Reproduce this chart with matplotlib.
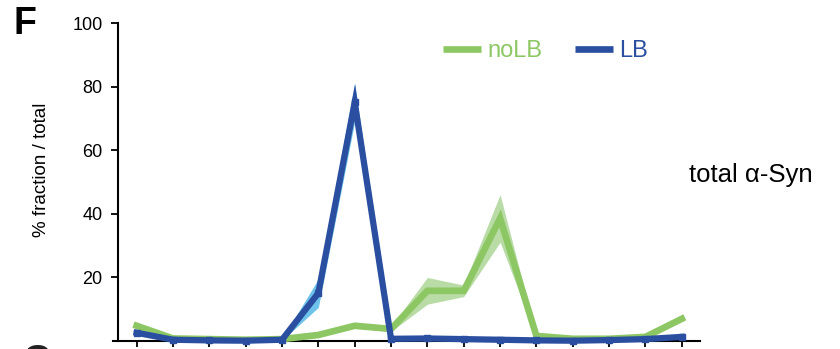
import matplotlib
matplotlib.use("Agg")
import matplotlib.pyplot as plt
import numpy as np

plt.rcParams['font.family'] = ['Liberation Sans', 'DejaVu Sans']

fractions = list(range(16))
nolb_mean = [4.7, 0.7, 0.5, 0.3, 0.5, 1.8, 4.7, 3.7, 15.7, 15.7, 38.5, 1.5, 0.6, 0.6, 1.2, 6.9]
nolb_err  = [0.6, 0.3, 0.3, 0.2, 0.3, 0.4, 0.8, 0.8, 4.2, 1.8, 7.5, 0.3, 0.2, 0.2, 0.3, 0.6]
lb_mean   = [2.5, 0.3, 0.1, 0.0, 0.3, 15.0, 75.0, 0.6, 0.7, 0.5, 0.3, 0.1, 0.0, 0.2, 0.5, 1.2]
lb_err    = [0.5, 0.2, 0.1, 0.1, 0.2, 4.5, 6.0, 0.3, 0.3, 0.2, 0.2, 0.1, 0.1, 0.1, 0.2, 0.3]
yticks = [20, 40, 60, 80, 100]

green = "#8dc764"
green_band = "#b9dca6"
blue = "#2a4ea0"
blue_band = "#6ec3ea"

fig = plt.figure(figsize=(8.4, 3.49), dpi=100)
ax = fig.add_axes([113/840, 1-340.7/349, (700-113)/840, (340.7-23)/349])

x = np.array(fractions)
nm, ne = np.array(nolb_mean), np.array(nolb_err)
lm, le = np.array(lb_mean), np.array(lb_err)

ax.fill_between(x, nm-ne, nm+ne, color=green_band, lw=0, clip_on=False, zorder=2)
ax.fill_between(x, lm-le, lm+le, color=blue_band, lw=0, clip_on=False, zorder=3)
ax.plot(x, nm, color=green, lw=4.8, solid_joinstyle='miter', clip_on=False, zorder=4, label='noLB')
ax.plot(x, lm, color=blue, lw=4.5, marker='s', ms=4, solid_joinstyle='miter', clip_on=False, zorder=5, label='LB')

x0 = -0.515
ax.set_xlim(-0.65, 15.5)
ax.set_ylim(0, 100)
ax.spines['left'].set_position(('data', x0))
ax.spines['right'].set_visible(False)
ax.spines['top'].set_visible(False)
ax.spines['left'].set_linewidth(1.5)
ax.spines['bottom'].set_linewidth(1.5)
ax.set_xticks(x)
ax.set_xticklabels([])
ax.set_yticks(yticks)
ax.set_yticklabels([str(v) for v in yticks], fontsize=13)
ax.tick_params(axis='x', direction='out', length=4, width=1.3)
ax.tick_params(axis='y', direction='out', length=5, width=1.3, pad=6)
ax.set_ylabel('% fraction / total', fontsize=13.5)
ax.yaxis.set_label_coords(50/840, 1-170/349, transform=fig.transFigure)

leg = ax.legend(loc='center left', bbox_to_anchor=(443/840, 1-51/349), bbox_transform=fig.transFigure,
                ncol=2, frameon=False, fontsize=17, handlelength=1.6, handletextpad=0.3,
                columnspacing=1.35, labelcolor='linecolor', borderpad=0, borderaxespad=0)
for h in leg.legend_handles:
    h.set_marker('')
    h.set_linewidth(4.8)
    h.set_solid_capstyle('butt')

fig.text(689/840, 1-175/349, 'total α-Syn', fontsize=18.5, va='center', ha='left')
fig.text(14/840, 1-24/349, 'F', fontsize=27, fontweight='bold', va='center', ha='left')
fig.text(22/840, 1-344/349, 'G', fontsize=27, fontweight='bold', va='top', ha='left', color='#222222')

fig.savefig('out.png', dpi=100)
